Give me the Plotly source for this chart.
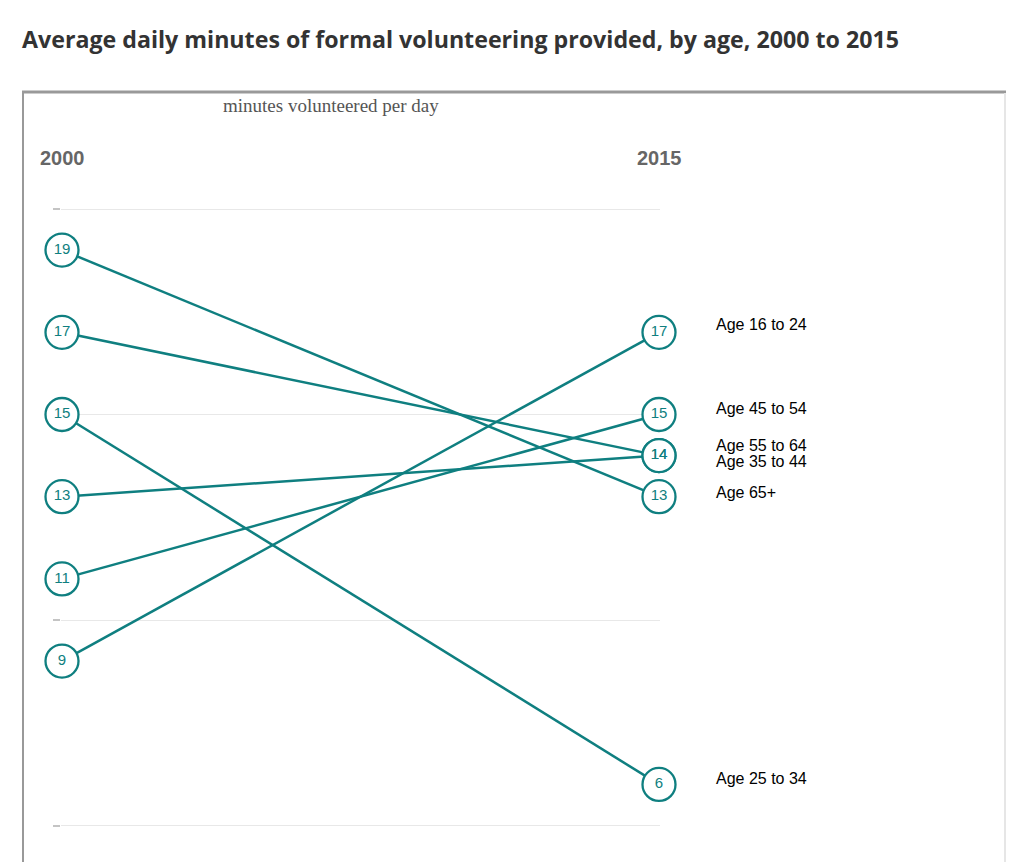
import plotly.graph_objects as go

groups = ["Age 16 to 24", "Age 25 to 34", "Age 35 to 44", "Age 45 to 54", "Age 55 to 64", "Age 65+"]
years = [2000, 2015]
v2000 = [9, 15, 13, 11, 17, 19]
v2015 = [17, 6, 14, 15, 14, 13]
label_yshift = [8, 6, -6, 6, 10, 4]  # pixel nudges so overlapping labels separate

TEAL = "#0f7f80"
W, H = 1024, 862
OFF = 8  # page body margin
# plot area in screen pixels
PL, PR, PT, PB = 61, 660, 205, 828
ml, mr = PL - OFF, W - (PR - OFF)
mt, mb = PT - OFF, H - (PB - OFF)
pw, ph = W - ml - mr, H - mt - mb

def px_x(p):
    return (p - PL) / pw

def px_y(p):
    return (PB - p) / ph

xspan = (659 - 62) / 15.0
yspan = 41.1
y20 = 209

fig = go.Figure()

for g, a, b in zip(groups, v2000, v2015):
    fig.add_trace(go.Scatter(x=years, y=[a, b], mode="lines",
                             line=dict(color=TEAL, width=2.5),
                             hoverinfo="skip", showlegend=False, cliponaxis=False))

xs, ys, txt = [], [], []
for a, b in zip(v2000, v2015):
    xs += [years[0], years[1]]
    ys += [a, b]
    txt += [str(a), str(b)]
fig.add_trace(go.Scatter(x=xs, y=ys, mode="markers+text", text=txt,
                         textposition="middle center",
                         textfont=dict(family="Liberation Sans, Arial", size=15, color=TEAL),
                         marker=dict(size=33, color="white", line=dict(color=TEAL, width=2.3)),
                         showlegend=False, cliponaxis=False))

for g, b, s in zip(groups, v2015, label_yshift):
    fig.add_annotation(x=years[1], y=b, xref="x", yref="y", text=g, showarrow=False,
                       xanchor="left", yanchor="middle", xshift=55, yshift=s,
                       font=dict(family="Liberation Sans, Arial", size=16, color="#000"))

for yr in years:
    fig.add_annotation(x=yr, y=px_y(158), xref="x", yref="paper", text="<b>%d</b>" % yr,
                       showarrow=False, xanchor="center", yanchor="middle",
                       font=dict(family="Liberation Sans, Arial", size=20, color="#666"))

fig.add_annotation(x=px_x(221), y=px_y(105), xref="paper", yref="paper",
                   text="minutes volunteered per day", showarrow=False,
                   xanchor="left", yanchor="middle",
                   font=dict(family="Liberation Serif, Times New Roman", size=19, color="#555"))

fig.add_annotation(x=px_x(20), y=px_y(39), xref="paper", yref="paper",
                   text="<b>Average daily minutes of formal volunteering provided, by age, 2000 to 2015</b>",
                   showarrow=False, xanchor="left", yanchor="middle",
                   font=dict(family="Open Sans", size=23.2, color="#333"))

fig.add_shape(type="line", xref="paper", yref="paper", x0=px_x(22), x1=px_x(1006),
              y0=px_y(92), y1=px_y(92), line=dict(color="#999", width=3))
fig.add_shape(type="line", xref="paper", yref="paper", x0=px_x(23), x1=px_x(23),
              y0=px_y(92), y1=px_y(880), line=dict(color="#999", width=2))
fig.add_shape(type="line", xref="paper", yref="paper", x0=px_x(1005), x1=px_x(1005),
              y0=px_y(93), y1=px_y(880), line=dict(color="#e6e6e6", width=2))

fig.update_layout(
    width=W, height=H,
    margin=dict(l=ml, r=mr, t=mt, b=mb),
    paper_bgcolor="white", plot_bgcolor="white",
    xaxis=dict(range=[2000 + (PL - 62) / xspan, 2015 + (PR - 659) / xspan],
               showgrid=False, zeroline=False, showticklabels=False, showline=False, ticks=""),
    yaxis=dict(range=[20 - (PB - y20) / yspan, 20 + (y20 - PT) / yspan], tickvals=[5, 10, 15, 20],
               showgrid=True, gridcolor="#e8e8e8", gridwidth=1, zeroline=False,
               showticklabels=False, showline=False, layer="below traces",
               ticks="outside", ticklen=7, tickcolor="#c4c4c4", tickwidth=1.5),
)

fig.write_html("out.html")
